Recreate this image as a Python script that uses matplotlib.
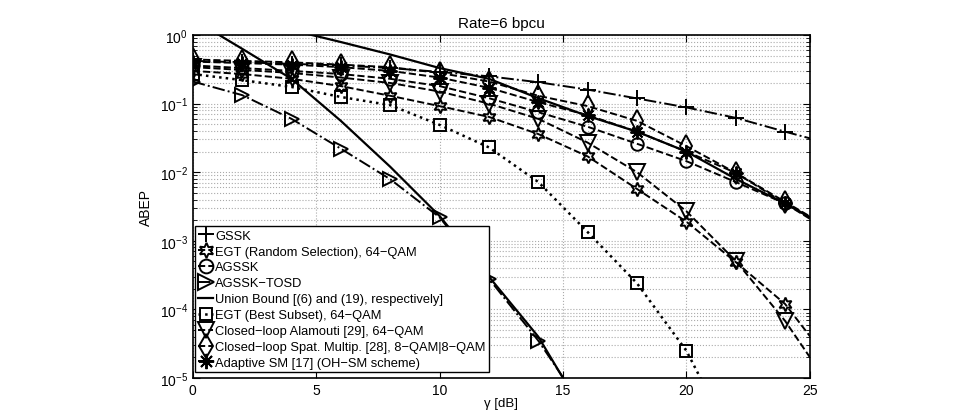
import numpy as np
import matplotlib
matplotlib.use('Agg')
import matplotlib.pyplot as plt
from matplotlib.ticker import FixedLocator, LogLocator, NullFormatter

plt.rcParams['font.family'] = ['Liberation Sans', 'DejaVu Sans']

# SNR points (dB); the point at 26 lies past the right edge so lines run off the axes
snr = [0, 2, 4, 6, 8, 10, 12, 14, 16, 18, 20, 22, 24, 26]

gssk = [0.42, 0.40, 0.38, 0.36, 0.33, 0.29, 0.25, 0.205, 0.16, 0.119, 0.088, 0.062, 0.039, 0.025]
egt_random = [0.30, 0.27, 0.23, 0.18, 0.13, 0.092, 0.064, 0.036, 0.017, 0.0057, 0.0019, 4.9e-4, 1.2e-4, 1.4e-5]
agssk = [0.36, 0.33, 0.30, 0.27, 0.23, 0.18, 0.12, 0.075, 0.046, 0.026, 0.0145, 0.0072, 0.0035, 0.0014]
alamouti = [0.34, 0.31, 0.28, 0.24, 0.20, 0.15, 0.10, 0.060, 0.027, 0.010, 0.0027, 5.1e-4, 6.8e-5, 6e-6]
spat_mux = [0.44, 0.42, 0.40, 0.37, 0.34, 0.28, 0.21, 0.13, 0.092, 0.056, 0.024, 0.0098, 0.0037, 0.0014]
adaptive_sm = [0.41, 0.39, 0.37, 0.34, 0.30, 0.24, 0.17, 0.105, 0.068, 0.039, 0.020, 0.0098, 0.0035, 0.00126]

snr_tosd = [0, 2, 4, 6, 8, 10, 12, 14, 16]
agssk_tosd = [0.21, 0.133, 0.060, 0.022, 0.0079, 0.0022, 2.8e-4, 3.5e-5, 3e-6]

snr_best = [0, 2, 4, 6, 8, 10, 12, 14, 16, 18, 20, 22]
egt_best = [0.27, 0.22, 0.175, 0.125, 0.095, 0.049, 0.023, 0.0072, 0.00134, 2.4e-4, 2.5e-5, 1e-6]

# union bounds
snr_ub1 = [0, 2, 4, 6, 8, 10, 12, 14, 16]
ub_tosd = [1.7, 0.63, 0.23, 0.056, 0.012, 0.0023, 3e-4, 4e-5, 2.5e-6]
snr_ub2 = [4, 6, 8, 10, 12, 14, 16, 18, 20, 22, 24, 26]
ub_agssk = [1.18, 0.79, 0.52, 0.33, 0.23, 0.12, 0.066, 0.039, 0.020, 0.008, 0.0035, 0.0014]

labels = ['GSSK', 'EGT (Random Selection), 64\u2212QAM', 'AGSSK', 'AGSSK\u2212TOSD',
          'Union Bound [(6) and (19), respectively]', 'EGT (Best Subset), 64\u2212QAM',
          'Closed\u2212loop Alamouti [29], 64\u2212QAM',
          'Closed\u2212loop Spat. Multip. [28], 8\u2212QAM|8\u2212QAM',
          'Adaptive SM [17] (OH\u2212SM scheme)']

fig = plt.figure(figsize=(9.64, 4.14), dpi=100)
ax = fig.add_axes([0.200, 0.0845, 0.640, 0.8285])

mk = dict(color='k', mfc='none', mew=1.4, lw=1.4)
h1, = ax.semilogy(snr, gssk, '-.', marker='+', ms=11, **mk)
h2, = ax.semilogy(snr, egt_random, '--', marker=(6, 1, 0), ms=10, **mk)
h3, = ax.semilogy(snr, agssk, '--', marker='o', ms=9, **mk)
h4, = ax.semilogy(snr_tosd, agssk_tosd, '-.', marker='>', ms=10, **mk)
h5, = ax.semilogy(snr_ub1, ub_tosd, '-', color='k', lw=1.6)
ax.semilogy(snr_ub2, ub_agssk, '-', color='k', lw=1.6)
h6, = ax.semilogy(snr_best, egt_best, ':', marker='s', ms=8, color='k', mfc='none', mew=1.4, lw=1.8)
h7, = ax.semilogy(snr, alamouti, '--', marker='v', ms=11, **mk)
h8, = ax.semilogy(snr, spat_mux, '--', marker='d', ms=11, **mk)
h9, = ax.semilogy(snr, adaptive_sm, '--', marker=(8, 2, 0), ms=10, **mk)

ax.set_xlim(0, 25)
ax.set_ylim(1e-5, 1)
ax.xaxis.set_major_locator(FixedLocator([0, 5, 10, 15, 20, 25]))
ax.yaxis.set_major_locator(FixedLocator([1e-5, 1e-4, 1e-3, 1e-2, 1e-1, 1]))
ax.set_yticklabels([r'$\mathregular{10^{-5}}$', r'$\mathregular{10^{-4}}$', r'$\mathregular{10^{-3}}$',
                    r'$\mathregular{10^{-2}}$', r'$\mathregular{10^{-1}}$', r'$\mathregular{10^{0}}$'])
ax.yaxis.set_minor_locator(LogLocator(base=10, subs=np.arange(2, 10), numticks=20))
ax.yaxis.set_minor_formatter(NullFormatter())

ax.grid(True, which='major', axis='both', color='#aaaaaa', ls=':', lw=0.8)
ax.grid(True, which='minor', axis='y', color='#aaaaaa', ls=':', lw=0.8)
ax.tick_params(which='both', direction='in', top=True, right=True, labelsize=10)
ax.tick_params(which='major', length=5)
ax.tick_params(which='minor', length=3)
for s in ax.spines.values():
    s.set_linewidth(1.2)

ax.set_title('Rate=6 bpcu', fontsize=11, pad=6)
ax.set_ylabel('ABEP', fontsize=10, labelpad=5)
ax.set_xlabel('\u03b3 [dB]', fontsize=9.5, labelpad=0)

leg = ax.legend([h1, h2, h3, h4, h5, h6, h7, h8, h9], labels, loc='lower left',
                bbox_to_anchor=(0.004, 0.017), fontsize=9.3, handlelength=1.1,
                handletextpad=0.2, labelspacing=0.3, borderpad=0.25,
                borderaxespad=0, fancybox=False, framealpha=1, edgecolor='k',
                markerscale=1.1)
leg.get_frame().set_linewidth(1.0)

fig.savefig('out.png', dpi=100, facecolor='white')
